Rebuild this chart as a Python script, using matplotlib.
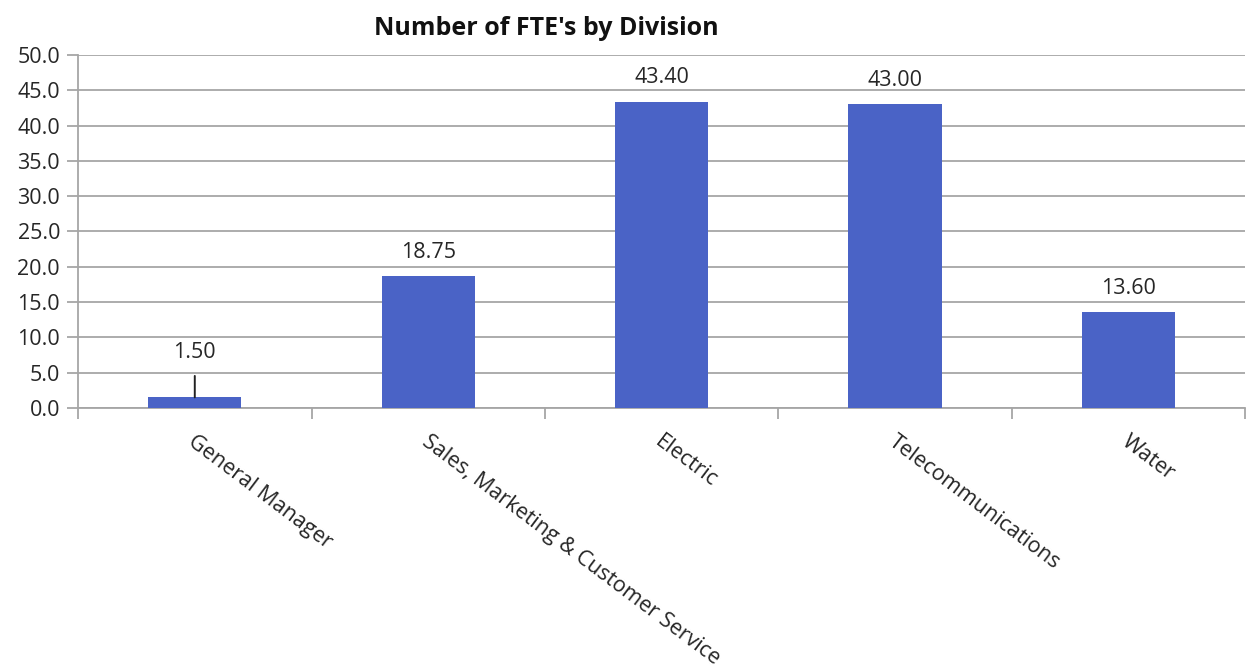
import matplotlib
matplotlib.use("Agg")
import matplotlib.pyplot as plt
import numpy as np

divisions = ["General Manager", "Sales, Marketing & Customer Service",
             "Electric", "Telecommunications", "Water"]
fte = [1.50, 18.75, 43.40, 43.00, 13.60]
value_labels = ["1.50", "18.75", "43.40", "43.00", "13.60"]
y_ticks = [0, 5, 10, 15, 20, 25, 30, 35, 40, 45, 50]

plt.rcParams['font.family'] = ['Open Sans', 'DejaVu Sans']
text_color = "#262626"
grid_color = "#a6a6a6"
bar_color = "#4A63C6"
fs = 15.5

fig = plt.figure(figsize=(12.47, 6.71), dpi=100)
ax = fig.add_axes([0.0626, 0.392, 0.936, 0.526])

x = np.arange(len(divisions))
ax.bar(x, fte, width=0.40, color=bar_color, zorder=3)

ax.set_xlim(-0.5, len(divisions) - 0.5)
ax.set_ylim(0, 50)
ax.set_yticks(y_ticks)
ax.set_yticklabels([f"{v:.1f}" for v in y_ticks], fontsize=fs, color=text_color)
ax.yaxis.grid(True, color=grid_color, linewidth=1.3, zorder=0)
ax.tick_params(axis='y', length=8, width=1.3, color=grid_color, pad=5)

# category ticks sit on the boundaries between bars
ax.set_xticks(np.arange(len(divisions) + 1) - 0.5)
ax.set_xticklabels([])
ax.tick_params(axis='x', length=8, width=1.3, color=grid_color)

for s in ['top', 'right']:
    ax.spines[s].set_visible(False)
for s in ['left', 'bottom']:
    ax.spines[s].set_color(grid_color)
    ax.spines[s].set_linewidth(1.3)

# rotated category names
for xi, name in zip(x, divisions):
    ax.annotate(name, xy=(xi, 0), xycoords='data', xytext=(-3, -23),
                textcoords='offset points', rotation=-37, rotation_mode='anchor',
                ha='left', va='center', fontsize=fs, color=text_color)

# value labels
for xi, v, lab in zip(x, fte, value_labels):
    if v < 5:
        ax.annotate(lab, xy=(xi, v), xytext=(0, 32), textcoords='offset points',
                    ha='center', va='center', fontsize=fs, color=text_color,
                    arrowprops=dict(arrowstyle='-', color='#222222', lw=1.4,
                                    shrinkA=7, shrinkB=0))
    else:
        ax.annotate(lab, xy=(xi, v), xytext=(0, 17), textcoords='offset points',
                    ha='center', va='center', fontsize=fs, color=text_color)

fig.text(0.438, 0.958, "Number of FTE's by Division", ha='center', va='center',
         fontsize=18, fontweight='bold', color='#111111')

fig.savefig("out.png", dpi=100, facecolor='white')
